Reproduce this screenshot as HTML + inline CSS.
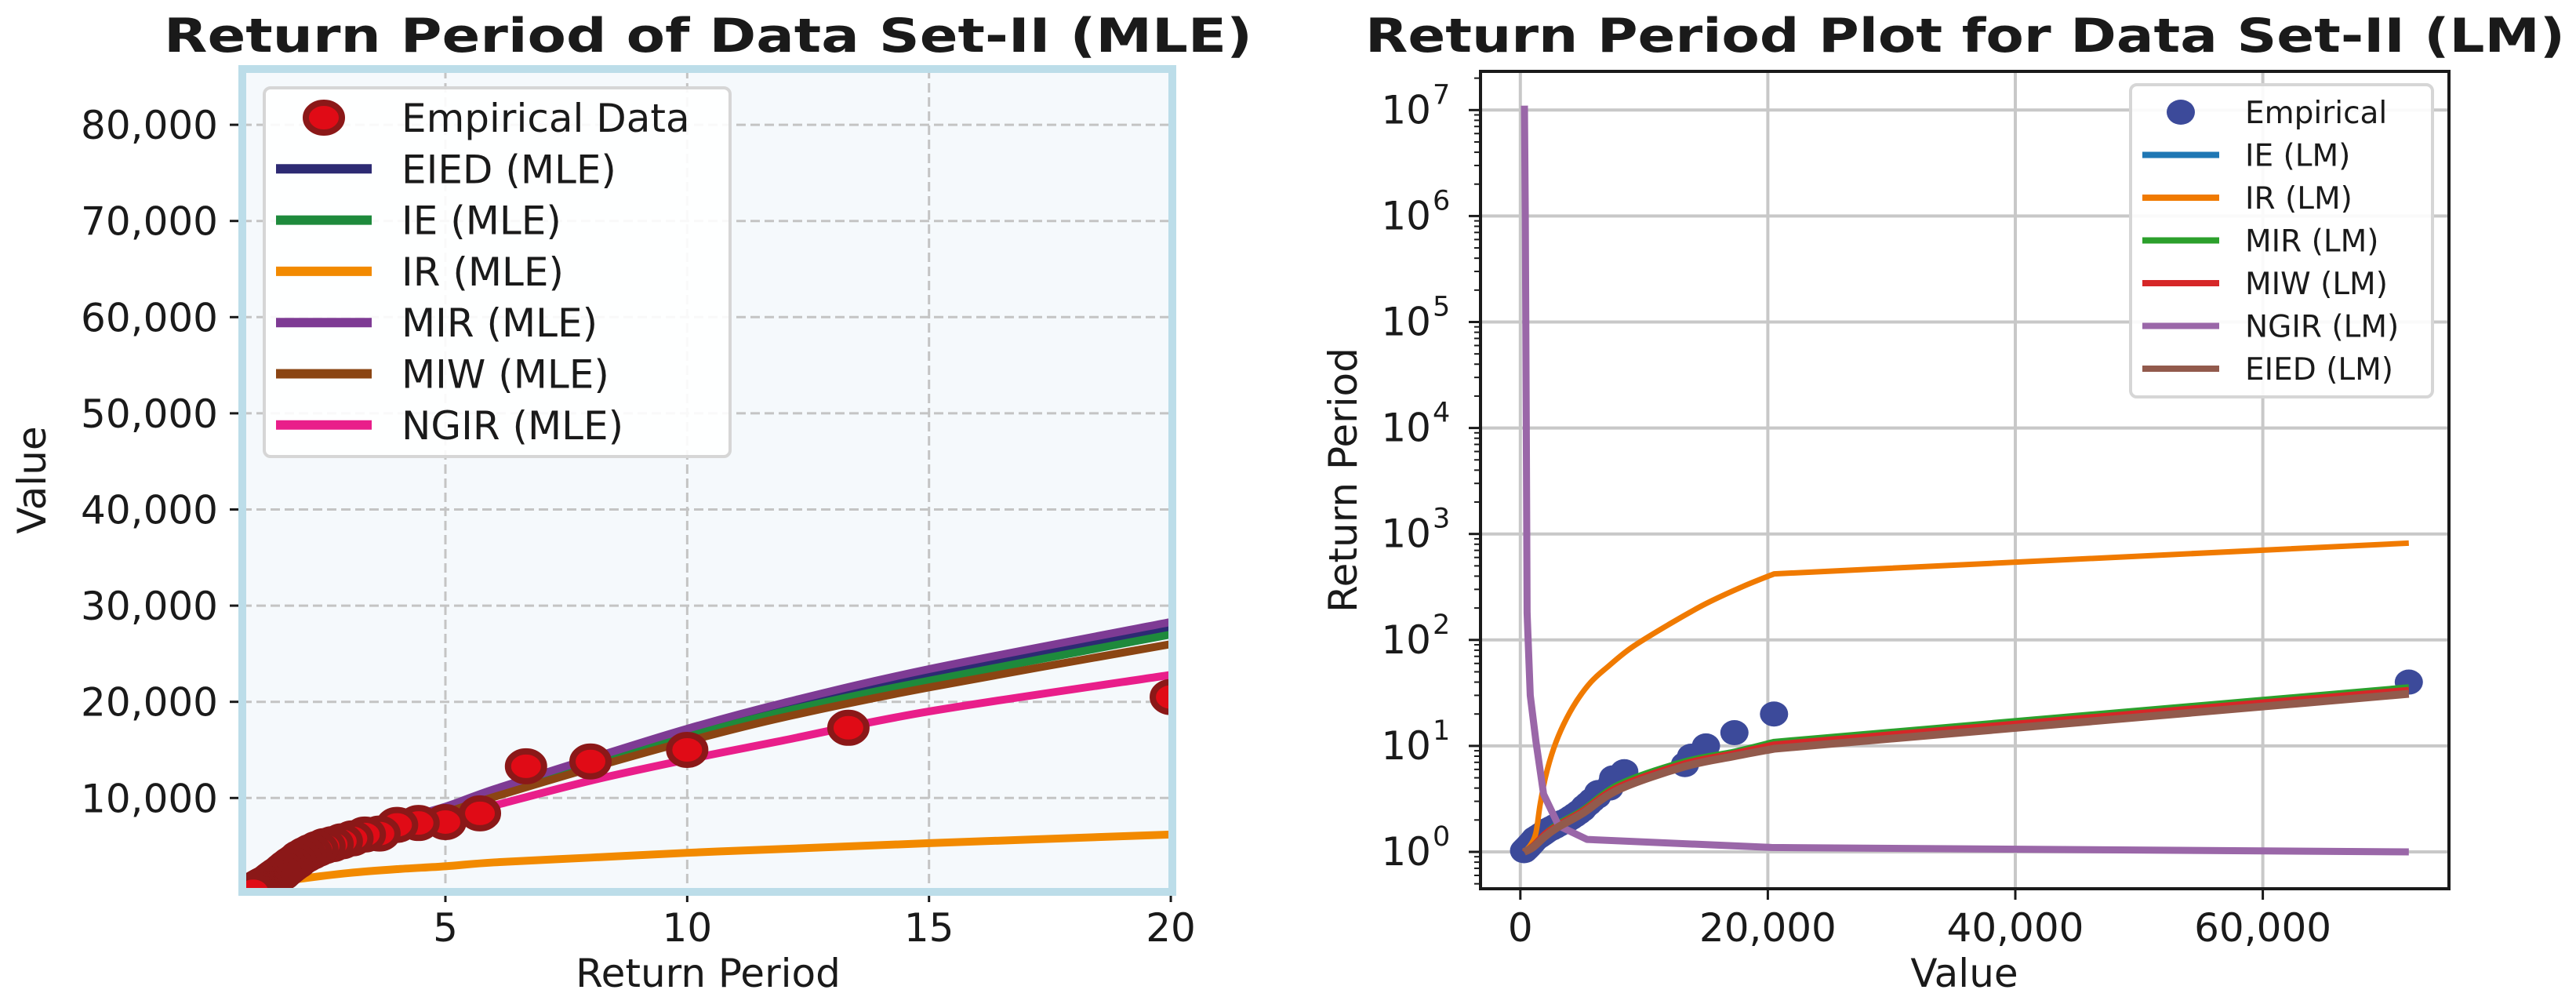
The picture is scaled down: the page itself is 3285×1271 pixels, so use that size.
<!DOCTYPE html>
<html><head><meta charset="utf-8"><style>
html,body{margin:0;padding:0;background:#fff;}
svg{display:block;font-family:"DejaVu Sans","Liberation Sans",sans-serif;}
</style></head><body>
<svg id="fig" width="3285" height="1271" viewBox="0 0 3285 1271" xmlns="http://www.w3.org/2000/svg">
<defs>
<clipPath id="clipL"><rect x="309" y="88" width="1186" height="1049"/></clipPath>
<clipPath id="clipR"><rect x="1888" y="91" width="1235" height="1042"/></clipPath>
</defs>
<g id="left"></g>
<g id="right"></g>
</svg>
<script>
// ---------- DATA ----------
const empValues = [71800,20500,17300,15000,13800,13300,8400,7500,7400,7200,6300,6200,5800,5500,5200,5000,4700,4400,4100,3800,3400,3100,2800,2500,2200,2000,1800,1600,1400,1200,1100,1000,900,800,700,600,500,400,300];
const empN = 40;
const mleT = [1,1.5,2,3,4,5,6,8,10,12,15,20];
const mleEIED = [800,2900,4100,5900,7400,8800,10500,13700,16700,19400,22700,27500];
const mleIE   = [800,2800,4000,5700,7300,8700,10300,13500,16400,19000,22200,27000];
const mleIR   = [500,1200,1600,2200,2600,2900,3300,3800,4300,4700,5300,6200];
const mleMIR  = [800,3000,4300,6100,7700,9100,10900,14100,17200,19900,23400,28300];
const mleMIW  = [800,2800,3900,5600,7200,8500,10100,13100,15900,18400,21500,26000];
const mleNGIR = [800,2700,3700,5200,6600,7900,9200,11800,14000,16000,19000,22800];
const leftXTicks = [5,10,15,20];
const leftYTicks = [10000,20000,30000,40000,50000,60000,70000,80000];
const lmX = [300,1000,2000,3000,5000,8000,13300,17300,20500,71800];
const lmIE   = [1,1.15,1.5,1.85,2.5,4.3,7.1,8.8,10.8,35];
const lmMIR  = [1,1.15,1.5,1.85,2.5,4.4,7.2,8.9,11,36];
const lmMIW  = [1,1.15,1.5,1.8,2.45,4.2,6.9,8.6,10.4,34];
const lmEIED = [1,1.1,1.4,1.7,2.3,3.9,6.4,8.0,9.4,31];
const lmIRx = [300,800,1250,1600,2050,2700,3500,4500,5700,7000,9000,12000,15000,18000,20500,71800];
const lmIR  = [1,1.15,1.5,2.8,5.2,9.5,16,26,40,55,85,140,220,320,420,820];
const lmNGIRx = [330,400,480,545,800,1270,1880,3100,5400,20300,71800];
const lmNGIR  = [1.1e7,1e6,1e4,180,30,10.8,3.5,1.76,1.31,1.1,1.0];
const rightXTicks = [0,20000,40000,60000];
const rightYExp = [0,1,2,3,4,5,6,7];

// ---------- HELPERS ----------
const NS="http://www.w3.org/2000/svg";
function mk(parent,tag,attrs){const e=document.createElementNS(NS,tag);for(const k in attrs)e.setAttribute(k,attrs[k]);parent.appendChild(e);return e;}
function txt(parent,x,y,s,size,anchor,weight){const t=mk(parent,'text',{x:x,y:y,'font-size':size,'text-anchor':anchor||'middle',fill:'#1a1a1a'});if(weight)t.setAttribute('font-weight',weight);t.textContent=s;return t;}
const fmt=v=>v.toLocaleString('en-US');
function smooth(pts){let d='M'+pts[0][0]+','+pts[0][1];
for(let i=0;i<pts.length-1;i++){const p0=pts[Math.max(0,i-1)],p1=pts[i],p2=pts[i+1],p3=pts[Math.min(pts.length-1,i+2)];
const c1x=p1[0]+(p2[0]-p0[0])/6,c1y=p1[1]+(p2[1]-p0[1])/6,c2x=p2[0]-(p3[0]-p1[0])/6,c2y=p2[1]-(p3[1]-p1[1])/6;
d+=' C'+c1x+','+c1y+' '+c2x+','+c2y+' '+p2[0]+','+p2[1];}return d;}
function smoothTail(pts){const last=pts[pts.length-1];return smooth(pts.slice(0,-1))+' L'+last[0]+','+last[1];}

// ---------- LEFT ----------
const L=document.getElementById('left');
const lx=t=>568+(t-5)*61.67;
const ly=v=>1139.9-v/10000*122.6;
mk(L,'rect',{x:309,y:88,width:1186,height:1049,fill:'#f5f9fc'});
for(const t of leftXTicks){const g=mk(L,'line',{x1:lx(t),x2:lx(t),y1:88,y2:1137,stroke:'#c4c4c4','stroke-width':3,'stroke-dasharray':'12,6'});


mk(L,'line',{x1:lx(t),x2:lx(t),y1:1137,y2:1150,stroke:'#1a1a1a','stroke-width':3});
const lab=txt(L,lx(t),1200,String(t),50);

}
for(const v of leftYTicks){const g=mk(L,'line',{x1:309,x2:1495,y1:ly(v),y2:ly(v),stroke:'#c4c4c4','stroke-width':3,'stroke-dasharray':'12,6'});


mk(L,'line',{x1:293,x2:306,y1:ly(v),y2:ly(v),stroke:'#1a1a1a','stroke-width':3});
const lab=txt(L,278,ly(v)+18,fmt(v),50,'end');

}
const lc=mk(L,'g',{'clip-path':'url(#clipL)'});
const leftSeries=[['eied',mleEIED,'#2d2a73'],['ie',mleIE,'#1e8a3c'],['ir',mleIR,'#f28a00'],['mir',mleMIR,'#7e3b94'],['miw',mleMIW,'#8b4513'],['ngir',mleNGIR,'#e91e8a']];
for(const [n,arr,c] of leftSeries){const p=mk(lc,'path',{d:smooth(mleT.map((t,i)=>[lx(t),ly(arr[i])])),fill:'none',stroke:c,'stroke-width':10,'stroke-linejoin':'round'});

}
empValues.forEach((v,i)=>{const T=empN/(i+1);const c=mk(lc,'ellipse',{cx:lx(T),cy:ly(v),rx:23,ry:19,fill:'#e00b16',stroke:'#8b1818','stroke-width':8});

});
mk(L,'rect',{x:309,y:88,width:1186,height:1049,fill:'none',stroke:'#bcdde9','stroke-width':10});
const lg=mk(L,'g',{});


mk(lg,'rect',{x:337,y:112,width:594,height:470,rx:8,fill:'#ffffff','fill-opacity':0.9,stroke:'#d6d6d6','stroke-width':4});
const legL=[['Empirical Data',null],['EIED (MLE)','#2d2a73'],['IE (MLE)','#1e8a3c'],['IR (MLE)','#f28a00'],['MIR (MLE)','#7e3b94'],['MIW (MLE)','#8b4513'],['NGIR (MLE)','#e91e8a']];
legL.forEach(([s,c],i)=>{const y=150+i*65.3;
if(c){const h=mk(lg,'line',{x1:352,x2:474,y1:y,y2:y,stroke:c,'stroke-width':12});}
else{const h=mk(lg,'ellipse',{cx:413,cy:y,rx:23,ry:19,fill:'#e00b16',stroke:'#8b1818','stroke-width':8});}
const t=txt(lg,512,y+18,s,50,'start');

});
const lt=txt(L,903,66,'Return Period of Data Set-II (MLE)',60,'middle','bold');
lt.setAttribute('textLength',1388);lt.setAttribute('lengthAdjust','spacingAndGlyphs');


const lxl=txt(L,903,1258,'Return Period',50);


const lyl=txt(L,0,0,'Value',50);
lyl.setAttribute('transform','translate(58,612) rotate(-90)');



// ---------- RIGHT ----------
const R=document.getElementById('right');
const rx=v=>1938.8+v/20000*315.6;
const ry=p=>1086-Math.log10(p)*135.1;
for(const v of rightXTicks){const g=mk(R,'line',{x1:rx(v),x2:rx(v),y1:91,y2:1133,stroke:'#c8c8c8','stroke-width':4});


mk(R,'line',{x1:rx(v),x2:rx(v),y1:1133,y2:1147,stroke:'#1a1a1a','stroke-width':3});
const lab=txt(R,rx(v),1200,fmt(v),50);

}
for(const e of rightYExp){const y=ry(Math.pow(10,e));const g=mk(R,'line',{x1:1888,x2:3123,y1:y,y2:y,stroke:'#c8c8c8','stroke-width':4});


mk(R,'line',{x1:1873,x2:1888,y1:y,y2:y,stroke:'#1a1a1a','stroke-width':3});
const lab=mk(R,'text',{x:1825,y:y+17,'font-size':50,'text-anchor':'end',fill:'#1a1a1a'});
lab.textContent='10';


const ex=mk(R,'text',{x:1827,y:y-8,'font-size':35,'text-anchor':'start',fill:'#1a1a1a'});ex.textContent=String(e);}
for(let e=-1;e<=7;e++)for(let m=2;m<=9;m++){const y=ry(m*Math.pow(10,e));if(y<91||y>1133)continue;mk(R,'line',{x1:1880,x2:1888,y1:y,y2:y,stroke:'#1a1a1a','stroke-width':2});}
const rc=mk(R,'g',{'clip-path':'url(#clipR)'});
empValues.forEach((v,i)=>{const T=empN/(i+1);const c=mk(rc,'ellipse',{cx:rx(v),cy:ry(T),rx:18,ry:16,fill:'#3c4a9a'});

});
const rightSeries=[['ie',lmX,lmIE,'#1f77b4',7,true],['ir',lmIRx,lmIR,'#f07a00',7,true],['mir',lmX,lmMIR,'#2ca02c',7,true],['miw',lmX,lmMIW,'#d62728',7,true],['ngir',lmNGIRx,lmNGIR,'#9a67a8',9,false],['eied',lmX,lmEIED,'#925a4c',10,true]];
for(const [n,xs,ys,c,w,sm] of rightSeries){const pts=xs.map((x,i)=>[rx(x),ry(ys[i])]);
const p=sm?mk(rc,'path',{d:smoothTail(pts),fill:'none',stroke:c,'stroke-width':w,'stroke-linejoin':'round'}):mk(rc,'polyline',{points:pts.map(q=>q.join(',')).join(' '),fill:'none',stroke:c,'stroke-width':w,'stroke-linejoin':'round'});

}
mk(R,'rect',{x:1888,y:91,width:1235,height:1042,fill:'none',stroke:'#1a1a1a','stroke-width':4});
const rg=mk(R,'g',{});


mk(rg,'rect',{x:2717,y:108,width:385,height:398,rx:8,fill:'#ffffff','fill-opacity':0.9,stroke:'#d6d6d6','stroke-width':4});
const legR=[['Empirical',null],['IE (LM)','#1f77b4'],['IR (LM)','#f07a00'],['MIR (LM)','#2ca02c'],['MIW (LM)','#d62728'],['NGIR (LM)','#9a67a8'],['EIED (LM)','#925a4c']];
legR.forEach(([s,c],i)=>{const y=143+i*54.5;
if(c){const h=mk(rg,'line',{x1:2732,x2:2830,y1:y,y2:y,stroke:c,'stroke-width':8});}
else{const h=mk(rg,'ellipse',{cx:2781,cy:y,rx:18,ry:16,fill:'#3c4a9a'});}
const t=txt(rg,2863,y+14,s,39,'start');

});
const rt=txt(R,2506,66,'Return Period Plot for Data Set-II (LM)',60,'middle','bold');
rt.setAttribute('textLength',1530);rt.setAttribute('lengthAdjust','spacingAndGlyphs');


const rxl=txt(R,2505,1258,'Value',50);


const ryl=txt(R,0,0,'Return Period',50);
ryl.setAttribute('transform','translate(1730,612) rotate(-90)');


</script>
</body></html>
